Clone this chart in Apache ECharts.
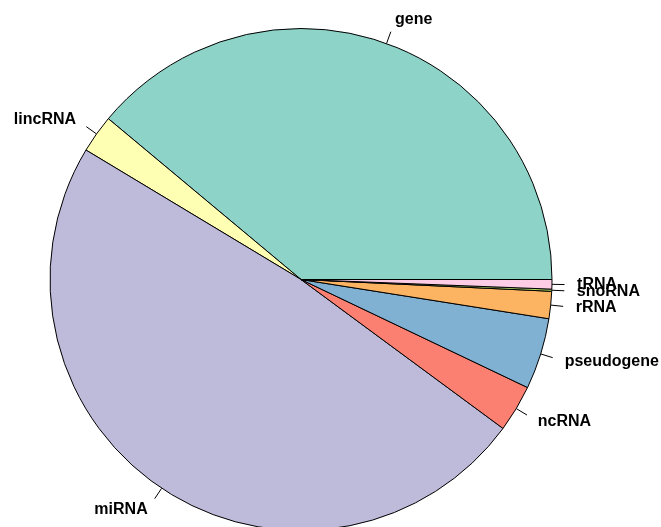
<!DOCTYPE html>
<html>
<head>
<meta charset="utf-8">
<script src="https://cdn.jsdelivr.net/npm/echarts@6/dist/echarts.min.js"></script>
<style>
html,body{margin:0;padding:0;background:#fff;}
#c{width:661px;height:527px;}
</style>
</head>
<body>
<div id="c"></div>
<script>
var categories = ['gene','lincRNA','miRNA','ncRNA','pseudogene','rRNA','snoRNA','tRNA'];
var values = [140.15, 8.8, 174.65, 10.9, 16.5, 6.3, 0.5, 2.2];
var colors = ['#8DD3C7','#FFFFB3','#BEBADA','#FB8072','#80B1D3','#FDB462','#B3DE69','#FCCDE5'];

var R = 251;
var chart = echarts.init(document.getElementById('c'), null, {renderer:'canvas'});
chart.setOption({
  animation: false,
  backgroundColor: '#ffffff',
  series: [{
    type: 'pie',
    center: [301, 279.5],
    radius: R,
    startAngle: 0,
    clockwise: false,
    avoidLabelOverlap: false,
    minAngle: 0,
    data: categories.map(function(c, i){
      return {name: c, value: values[i], itemStyle: {color: colors[i]}};
    }),
    itemStyle: {borderColor: '#000', borderWidth: 1},
    emphasis: {disabled: true},
    label: {
      show: true,
      position: 'outside',
      formatter: '{b}',
      color: '#000',
      fontFamily: 'Liberation Sans, Arial, sans-serif',
      fontWeight: 'bold',
      fontSize: 16
    },
    labelLine: {
      show: true,
      length: R * 0.05,
      length2: 0,
      smooth: false,
      lineStyle: {color: '#000', width: 1}
    },
    labelLayout: function(p){
      var pts = p.labelLinePoints;
      if (!pts || pts.length < 2) return {};
      var p0 = pts[0], p1 = pts[1];
      var dx = p1[0] - p0[0], dy = p1[1] - p0[1];
      var tx = p0[0] + dx * 2, ty = p0[1] + dy * 2;
      return {
        x: tx, y: ty,
        align: dx < 0 ? 'right' : 'left',
        verticalAlign: 'middle',
        labelLinePoints: [p0, p1, p1]
      };
    }
  }]
});
</script>
</body>
</html>
